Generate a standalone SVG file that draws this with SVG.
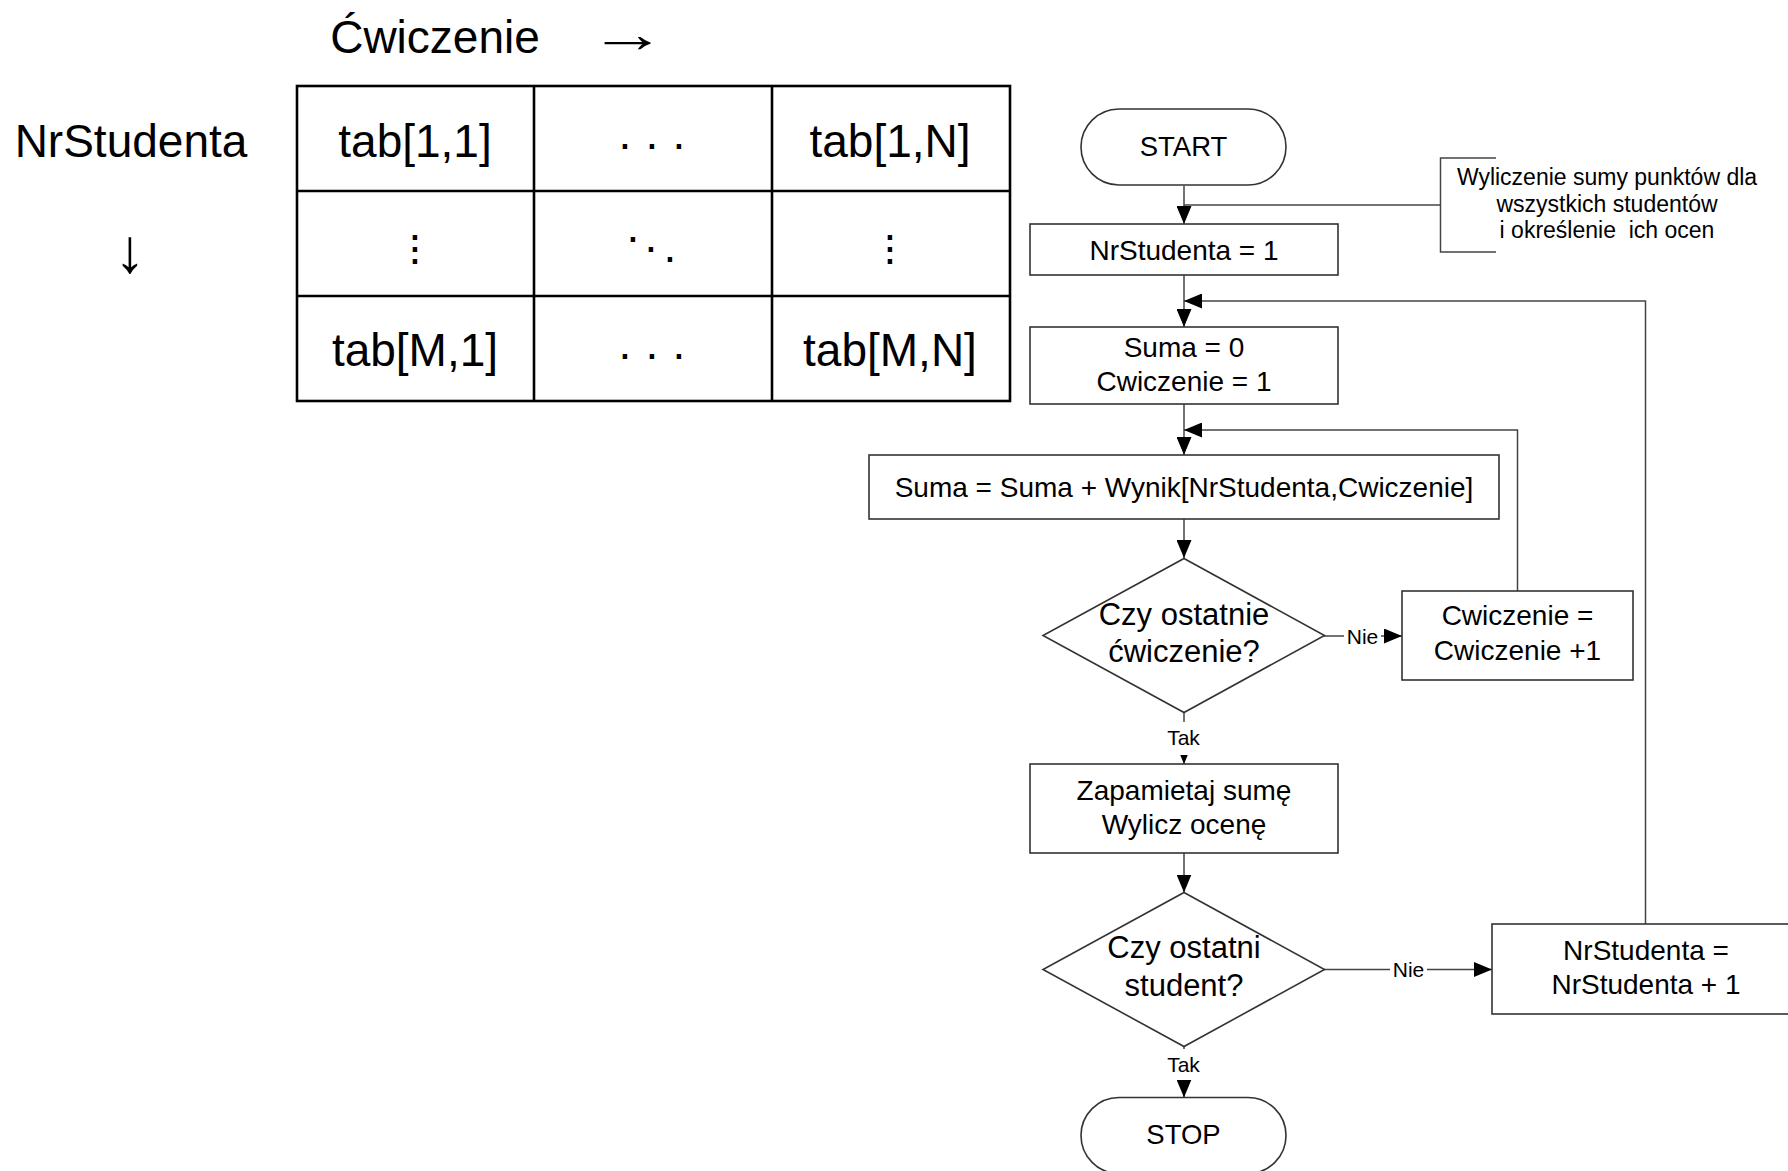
<svg xmlns="http://www.w3.org/2000/svg" width="1788" height="1171" viewBox="0 0 1788 1171">
<defs>
<style>
.t{font-family:"Liberation Sans",Arial,sans-serif;fill:#000;text-anchor:middle}
.big{font-size:46px}
.fc{font-size:28px}
.dq{font-size:31px}
.lb{font-size:21px}
.cm{font-size:23px;white-space:pre}
.tbl{fill:none;stroke:#000;stroke-width:2.6}
.box{fill:#fff;stroke:#333;stroke-width:1.6}
.ln{fill:none;stroke:#444;stroke-width:1.5}
.bg{fill:#fff}
</style>
<marker id="ah" markerUnits="userSpaceOnUse" markerWidth="18" markerHeight="15" refX="18" refY="7.5" orient="auto">
<path d="M0,0 L18,7.5 L0,15 z" fill="#000"/>
</marker>
</defs>
<rect width="1788" height="1171" fill="#fff"/>

<g id="matrix">
<text class="t big" x="435" y="53">Ćwiczenie</text>
<text class="t" transform="translate(628,52) scale(1.5,1)" x="0" y="0" style="font-family:'Liberation Serif',serif;font-size:52px">→</text>
<text class="t big" x="131" y="157">NrStudenta</text>
<text class="t" x="130" y="272" style="font-family:'Liberation Serif',serif;font-size:62px">↓</text>
<rect class="tbl" x="297" y="86" width="713" height="315"/>
<line class="tbl" x1="534" y1="86" x2="534" y2="401"/>
<line class="tbl" x1="772" y1="86" x2="772" y2="401"/>
<line class="tbl" x1="297" y1="191" x2="1010" y2="191"/>
<line class="tbl" x1="297" y1="296" x2="1010" y2="296"/>
<text class="t big" x="415" y="157">tab[1,1]</text>
<text class="t big" x="890" y="157">tab[1,N]</text>
<text class="t big" x="415" y="366">tab[M,1]</text>
<text class="t big" x="890" y="366">tab[M,N]</text>
<text class="t big" x="625 652 679" y="149">...</text>
<text class="t big" x="625 652 679" y="359">...</text>
<text class="t big" x="415 415 415" y="240 252 264">...</text>
<text class="t big" x="890 890 890" y="240 252 264">...</text>
<text class="t big" x="633 651 670" y="242 252 262">...</text>
</g>

<g id="connectors">
<line class="ln" x1="1184" y1="186" x2="1184" y2="224" marker-end="url(#ah)"/>
<line class="ln" x1="1184" y1="205" x2="1440.5" y2="205"/>
<path class="ln" d="M1496,158 H1440.5 V252 H1496"/>
<line class="ln" x1="1184" y1="275" x2="1184" y2="327" marker-end="url(#ah)"/>
<polyline class="ln" points="1645.5,924 1645.5,301 1184,301" marker-end="url(#ah)"/>
<line class="ln" x1="1184" y1="404" x2="1184" y2="455" marker-end="url(#ah)"/>
<polyline class="ln" points="1517.5,591 1517.5,430 1184,430" marker-end="url(#ah)"/>
<line class="ln" x1="1184" y1="519" x2="1184" y2="558" marker-end="url(#ah)"/>
<line class="ln" x1="1324" y1="636" x2="1402" y2="636" marker-end="url(#ah)"/>
<line class="ln" x1="1184" y1="712" x2="1184" y2="764" marker-end="url(#ah)"/>
<line class="ln" x1="1184" y1="853" x2="1184" y2="892.5" marker-end="url(#ah)"/>
<line class="ln" x1="1324" y1="969.5" x2="1492" y2="969.5" marker-end="url(#ah)"/>
<line class="ln" x1="1184" y1="1046" x2="1184" y2="1097.5" marker-end="url(#ah)"/>
<rect class="bg" x="1344" y="624" width="37" height="24"/>
<text class="t lb" x="1362.5" y="643.5">Nie</text>
<rect class="bg" x="1164" y="722" width="39" height="33"/>
<text class="t lb" x="1183.5" y="745">Tak</text>
<rect class="bg" x="1390" y="957" width="37" height="24"/>
<text class="t lb" x="1408.5" y="976.5">Nie</text>
<rect class="bg" x="1164" y="1049" width="39" height="31"/>
<text class="t lb" x="1183.5" y="1071.5">Tak</text>
</g>

<g id="start">
<rect class="box" x="1081" y="109" width="205" height="76" rx="38" ry="38"/>
<text class="t fc" x="1183.5" y="155.5" style="font-size:27.5px">START</text>
</g>
<g id="comment">
<text class="t cm" x="1607" y="185">Wyliczenie sumy punktów dla</text>
<text class="t cm" x="1607" y="212">wszystkich studentów</text>
<text class="t cm" x="1607" y="238">i określenie  ich ocen</text>
</g>
<g id="init-student">
<rect class="box" x="1030" y="224" width="308" height="51"/>
<text class="t fc" x="1184" y="259.5">NrStudenta = 1</text>
</g>
<g id="init-sum">
<rect class="box" x="1030" y="327" width="308" height="77"/>
<text class="t fc" x="1184" y="357">Suma = 0</text>
<text class="t fc" x="1184" y="391">Cwiczenie = 1</text>
</g>
<g id="accumulate">
<rect class="box" x="869" y="455" width="630" height="64"/>
<text class="t fc" x="1184" y="497">Suma = Suma + Wynik[NrStudenta,Cwiczenie]</text>
</g>
<g id="decision-exercise">
<polygon class="box" points="1184,558.5 1324.5,635.5 1184,712.5 1043,635.5"/>
<text class="t dq" x="1184" y="625">Czy ostatnie</text>
<text class="t dq" x="1184" y="662">ćwiczenie?</text>
</g>
<g id="next-exercise">
<rect class="box" x="1402" y="591" width="231" height="89"/>
<text class="t fc" x="1517.5" y="625">Cwiczenie =</text>
<text class="t fc" x="1517.5" y="660">Cwiczenie +1</text>
</g>
<g id="store">
<rect class="box" x="1030" y="764" width="308" height="89"/>
<text class="t fc" x="1184" y="800">Zapamietaj sumę</text>
<text class="t fc" x="1184" y="834">Wylicz ocenę</text>
</g>
<g id="decision-student">
<polygon class="box" points="1184,892.5 1324.5,969.5 1184,1046.5 1043,969.5"/>
<text class="t dq" x="1184" y="958">Czy ostatni</text>
<text class="t dq" x="1184" y="996">student?</text>
</g>
<g id="next-student">
<rect class="box" x="1492" y="924" width="308" height="90"/>
<text class="t fc" x="1646" y="960">NrStudenta =</text>
<text class="t fc" x="1646" y="994">NrStudenta + 1</text>
</g>
<g id="stop">
<rect class="box" x="1081" y="1097.5" width="205" height="76" rx="38" ry="38"/>
<text class="t fc" x="1183.5" y="1144" style="font-size:27.5px">STOP</text>
</g>
</svg>
